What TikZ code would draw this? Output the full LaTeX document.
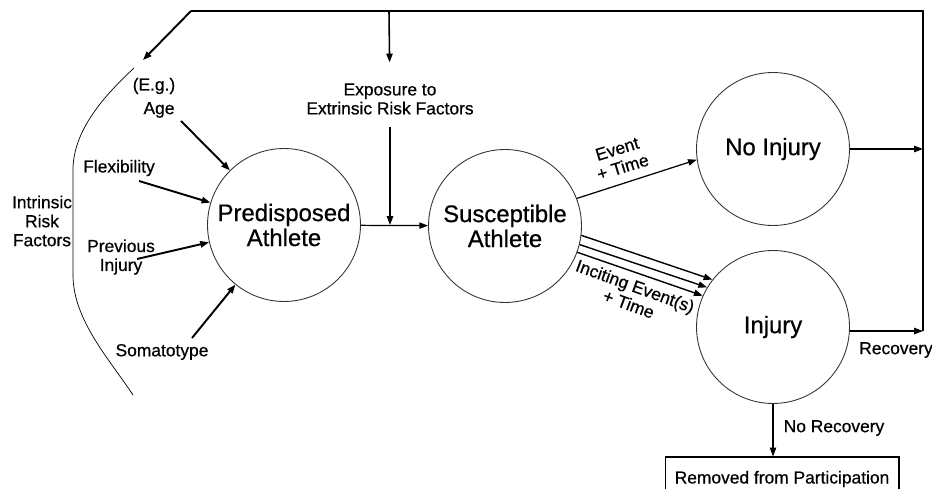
\documentclass[tikz,border=0pt]{standalone}
\usepackage{fontspec}
\setmainfont{Liberation Sans}[FakeBold=0.6]
\usetikzlibrary{arrows.meta,calc}
\newcommand{\labelsize}{\fontsize{9.9}{10.8}\selectfont}
\newcommand{\phasesize}{\fontsize{13.6}{14.2}\selectfont}
\tikzset{every node/.style={align=center, font=\labelsize, inner sep=1pt},
    phase/.style={draw=black!80, line width=0.5pt, circle, minimum size=3.06cm, font=\phasesize},
    flow/.style={-{Triangle[length=5pt,width=3.6pt]}, line width=0.7pt},
    factor/.style={flow, line width=1.1pt},
    }

\begin{document}
\begin{tikzpicture}[x=0.02cm, y=-0.02cm]
\clip (0,0) rectangle (932,489);
% stages
\node[phase] (pre) at (284,225) {Predisposed\\Athlete};
\node[phase] (sus) at (505,226) {Susceptible\\Athlete};
\node[phase] (noinj) at (773,149) {No Injury};
\node[phase] (inj) at (773,327) {Injury};
\node[draw, line width=0.6pt, minimum width=4.68cm, minimum height=0.88cm] (removed) at (782,479) {Removed from Participation};
% intrinsic factors
\node (intr) at (42,221) {Intrinsic\\Risk\\Factors};
\node (eg) at (154,86) {(E.g.)};
\node (age) at (159,110) {Age};
\node (flex) at (119,168) {Flexibility};
\node (prev) at (121,257) {Previous\\Injury};
\node (soma) at (162,352) {Somatotype};
\draw[line width=0.4pt] (134,68) .. controls (105,95) and (73,130) .. (73,170) -- (73,275)
    .. controls (73,320) and (110,360) .. (133,395);
\draw[factor] ([shift={(22,11)}]age.center) -- (pre);
\draw[factor] ([shift={(20,13)}]flex.center) -- (pre);
\draw[factor] ([shift={(16,2)}]prev.center) -- (pre);
\draw[factor] ([shift={(30,-14)}]soma.center) -- (pre);
% extrinsic exposure
\coordinate (ne) at (923,11);
\coordinate (nw) at (191,11);
\coordinate (back) at (143,60);
\coordinate (expotop) at (389,11);
\node[outer ysep=6pt] (expo) at (390,99) {Exposure to\\Extrinsic Risk Factors};
\coordinate (join) at (pre.east -| expo);
\draw[flow, line width=0.9pt, shorten >=5pt] (expotop) -- (expo);
\draw[flow, line width=0.9pt] (expo) -- (join);
\draw[flow] (pre) -- (sus);
% outcomes
\draw[flow] (sus.21) -- (noinj.188);
\node[rotate=17] (evt) at (620,158) {Event\\+ Time};
\foreach \a/\b in {-7/142,-14/149,-20/156}
    \draw[flow, line width=0.8pt] (sus.\a) -- (inj.\b);
\node[rotate=-20] (incite) at (632,295) {Inciting Event(s)\\+ Time};
\draw[flow] (noinj.east) -- (noinj.east -| ne);
\draw[flow] (inj.-3) -- (inj.-3 -| ne);
\node (rec) at (896,350) {Recovery};
\draw[line width=1.1pt] (inj.-3 -| ne) -- (ne) -- (nw);
\draw[factor] (nw) -- (back);
\draw[flow] (inj.south) -- (inj.south |- removed.north);
\node (norec) at (834,428) {No Recovery};
\end{tikzpicture}
\end{document}
